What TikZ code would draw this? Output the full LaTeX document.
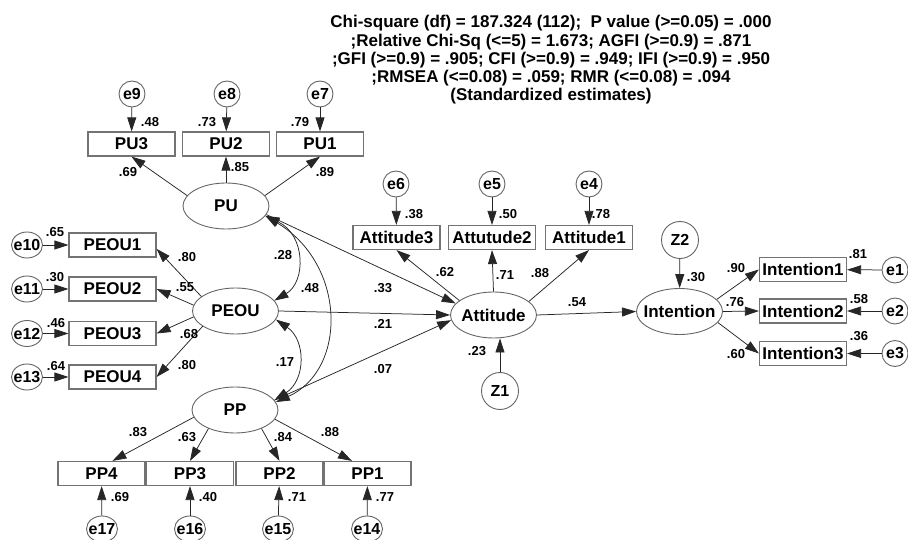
\documentclass[tikz,border=0pt]{standalone}
\usepackage{fontspec}
\setmainfont{Liberation Sans}
\usetikzlibrary{arrows.meta,shapes.geometric}
\newcommand{\zw}[1]{\makebox[0pt]{#1}}
\begin{document}
\begin{tikzpicture}[x=1pt,y=-1pt,
  hdr/.style={anchor=base, inner sep=0pt, font=\fontsize{17}{17}\selectfont\bfseries},
  box/.style={draw=black!55, line width=1.2pt, minimum width=87pt, minimum height=24pt, inner sep=0pt, font=\fontsize{17}{17}\selectfont\bfseries},
  lat/.style={ellipse, draw=black!60, line width=0.9pt, minimum width=86pt, minimum height=46pt, inner sep=0pt, font=\fontsize{17}{17}\selectfont\bfseries},
  err/.style={circle, draw=black!60, line width=0.9pt, minimum size=26pt, inner sep=0pt, font=\fontsize{16}{16}\selectfont\bfseries},
  errw/.style={ellipse, draw=black!60, line width=0.9pt, minimum width=31pt, minimum height=26pt, inner sep=0pt, font=\fontsize{16}{16}\selectfont\bfseries},
  dist/.style={circle, draw=black!60, line width=0.9pt, minimum size=37pt, inner sep=0pt, font=\fontsize{16}{16}\selectfont\bfseries},
  lbl/.style={inner sep=0pt, font=\fontsize{13}{13}\selectfont\bfseries},
  arr/.style={draw=black!85, line width=0.75pt, -{Triangle[length=14pt,width=9pt]}},
  cov/.style={draw=black!85, line width=0.75pt, {Triangle[length=14pt,width=9pt]}-{Triangle[length=14pt,width=9pt]}}
]
\fill[white] (0,0) rectangle (908,540);
\clip (0,0) rectangle (908,540);

% header
\node[hdr] (h1) at (551,28) {Chi-square (df) = 187.324 (112);\ \ P value (>=0.05) = .000};
\node[hdr] (h2) at (551,46.25) {;Relative Chi-Sq (<=5) = 1.673; AGFI (>=0.9) = .871};
\node[hdr] (h3) at (551,64.5) {;GFI (>=0.9) = .905; CFI (>=0.9) = .949; IFI (>=0.9) = .950};
\node[hdr] (h4) at (551,82.75) {;RMSEA (<=0.08) = .059; RMR (<=0.08) = .094};
\node[hdr] (h5) at (551,101) {(Standardized estimates)};

% latent variables
\node[lat] (PU) at (226,206) {\zw{PU}};
\node[lat] (PEOU) at (235.5,311) {\zw{PEOU}};
\node[lat] (PP) at (235,410) {\zw{PP}};
\node[lat] (Att) at (493.5,315) {\zw{Attitude}};
\node[lat] (Int) at (679.5,311.5) {\zw{Intention}};

% PU indicators
\node[box] (PU3) at (131.5,144) {PU3};
\node[box] (PU2) at (226,144) {PU2};
\node[box] (PU1) at (320,144) {PU1};
\node[err] (e9) at (132,94) {\zw{e9}};
\node[err] (e8) at (227,94) {\zw{e8}};
\node[err] (e7) at (320,94) {\zw{e7}};

% PEOU indicators
\node[box] (PEOU1) at (112.5,245) {PEOU1};
\node[box] (PEOU2) at (112.5,289) {PEOU2};
\node[box] (PEOU3) at (112.5,333.5) {PEOU3};
\node[box] (PEOU4) at (112.5,377) {PEOU4};
\node[errw] (e10) at (27,245) {\zw{e10}};
\node[errw] (e11) at (27,289) {\zw{e11}};
\node[errw] (e12) at (27,333.5) {\zw{e12}};
\node[errw] (e13) at (27,377) {\zw{e13}};

% PP indicators
\node[box] (PP4) at (101.5,473.5) {PP4};
\node[box] (PP3) at (190,473.5) {PP3};
\node[box] (PP2) at (279.5,473.5) {PP2};
\node[box] (PP1) at (367.5,473.5) {PP1};
\node[errw] (e17) at (102,529) {\zw{e17}};
\node[errw] (e16) at (190,529) {\zw{e16}};
\node[errw] (e15) at (278,529) {\zw{e15}};
\node[errw] (e14) at (367,529) {\zw{e14}};

% Attitude indicators
\node[box] (A3) at (396.5,237.5) {Attitude3};
\node[box] (A2) at (492,237.5) {Attutude2};
\node[box] (A1) at (589,237.5) {Attitude1};
\node[err] (e6) at (396,184) {\zw{e6}};
\node[err] (e5) at (492,184) {\zw{e5}};
\node[err] (e4) at (589,184) {\zw{e4}};
\node[dist] (Z1) at (500,391) {\zw{Z1}};

% Intention indicators
\node[box] (I1) at (803,269.5) {Intention1};
\node[box] (I2) at (803,311) {Intention2};
\node[box] (I3) at (803,353.5) {Intention3};
\node[err] (e1) at (895,270) {\zw{e1}};
\node[err] (e2) at (895,311) {\zw{e2}};
\node[err] (e3) at (895,353.5) {\zw{e3}};
\node[dist] (Z2) at (680,240) {\zw{Z2}};

% error arrows
\draw[arr] (e9) -- (PU3);
\draw[arr] (e8) -- (PU2);
\draw[arr] (e7) -- (PU1);
\draw[arr] (e10) -- (PEOU1);
\draw[arr] (e11) -- (PEOU2);
\draw[arr] (e12) -- (PEOU3);
\draw[arr] (e13) -- (PEOU4);
\draw[arr] (e17) -- (PP4);
\draw[arr] (e16) -- (PP3);
\draw[arr] (e15) -- (PP2);
\draw[arr] (e14) -- (PP1);
\draw[arr] (e6) -- (A3);
\draw[arr] (e5) -- (A2);
\draw[arr] (e4) -- (A1);
\draw[arr] (e1) -- (I1);
\draw[arr] (e2) -- (I2);
\draw[arr] (e3) -- (I3);

% loadings
\draw[arr] (PU.165) -- (PU3.south);
\draw[arr] (PU.north) -- (PU2.south);
\draw[arr] (PU.15) -- (PU1.south);
\draw[arr] (PEOU.157) -- (PEOU1.-5);
\draw[arr] (PEOU.172) -- (PEOU2.east);
\draw[arr] (PEOU.188) -- (PEOU3.east);
\draw[arr] (PEOU.205) -- (PEOU4.east);
\draw[arr] (PP.190) -- (PP4.49);
\draw[arr] (PP.215) -- (PP3.north);
\draw[arr] (PP.-35) -- (PP2.north);
\draw[arr] (PP.-13) -- (PP1.141);
\draw[arr] (Att.157) -- (A3.south);
\draw[arr] (Att.north) -- (A2.south);
\draw[arr] (Att.21) -- (A1.south);
\draw[arr] (Int.18) -- (I1.west);
\draw[arr] (Int.east) -- (I2.west);
\draw[arr] (Int.-16) -- (I3.west);

% structural paths
\draw[arr] (PU.-12) -- (Att.163);
\draw[arr] (PEOU.east) -- (Att.west);
\draw[arr] (PP.14) -- (Att.187);
\draw[arr] (Att.east) -- (Int.west);
\draw[arr] (Z1) -- (Z1 |- Att.south);
\draw[arr] (Z2) -- (Int);

% covariances
\draw[cov] (PU.-14) .. controls (306,235) and (306,282) .. (PEOU.15);
\draw[cov] (PU.-14) .. controls (347,265) and (347,370) .. (PP.11);
\draw[cov] (PEOU.-12) .. controls (306,340) and (306,380) .. (PP.14);

% labels
\node[lbl] (l1) at (150,122) {.48};
\node[lbl] (l2) at (207,122) {.73};
\node[lbl] (l3) at (300,122) {.79};
\node[lbl] (l4) at (128,172) {.69};
\node[lbl] (l5) at (240,167) {.85};
\node[lbl] (l6) at (325,172) {.89};
\node[lbl] (l7) at (55,232) {.65};
\node[lbl] (l8) at (55,277) {.30};
\node[lbl] (l9) at (56,323) {.46};
\node[lbl] (l10) at (56,366) {.64};
\node[lbl] (l11) at (187,257) {.80};
\node[lbl] (l12) at (185,287) {.55};
\node[lbl] (l13) at (189,334) {.68};
\node[lbl] (l14) at (187,365) {.80};
\node[lbl] (l15) at (138,432) {.83};
\node[lbl] (l16) at (187,437) {.63};
\node[lbl] (l17) at (283,437) {.84};
\node[lbl] (l18) at (330,432) {.88};
\node[lbl] (l19) at (120,497) {.69};
\node[lbl] (l20) at (208,497) {.40};
\node[lbl] (l21) at (297,497) {.71};
\node[lbl] (l22) at (385,497) {.77};
\node[lbl] (l23) at (283,255) {.28};
\node[lbl] (l24) at (310,288) {.48};
\node[lbl] (l25) at (285,362) {.17};
\node[lbl] (l26) at (414,214) {.38};
\node[lbl] (l27) at (508,214) {.50};
\node[lbl] (l28) at (601,214) {.78};
\node[lbl] (l29) at (445,272) {.62};
\node[lbl] (l30) at (505,275) {.71};
\node[lbl] (l31) at (540,273) {.88};
\node[lbl] (l32) at (383,288) {.33};
\node[lbl] (l33) at (383,324) {.21};
\node[lbl] (l34) at (383,369) {.07};
\node[lbl] (l35) at (577,302) {.54};
\node[lbl] (l36) at (477,351) {.23};
\node[lbl] (l37) at (696,277) {.30};
\node[lbl] (l38) at (736,268) {.90};
\node[lbl] (l39) at (735,302) {.76};
\node[lbl] (l40) at (736,354) {.60};
\node[lbl] (l41) at (858,254) {.81};
\node[lbl] (l42) at (859,299) {.58};
\node[lbl] (l43) at (859,336) {.36};
\end{tikzpicture}
\end{document}
